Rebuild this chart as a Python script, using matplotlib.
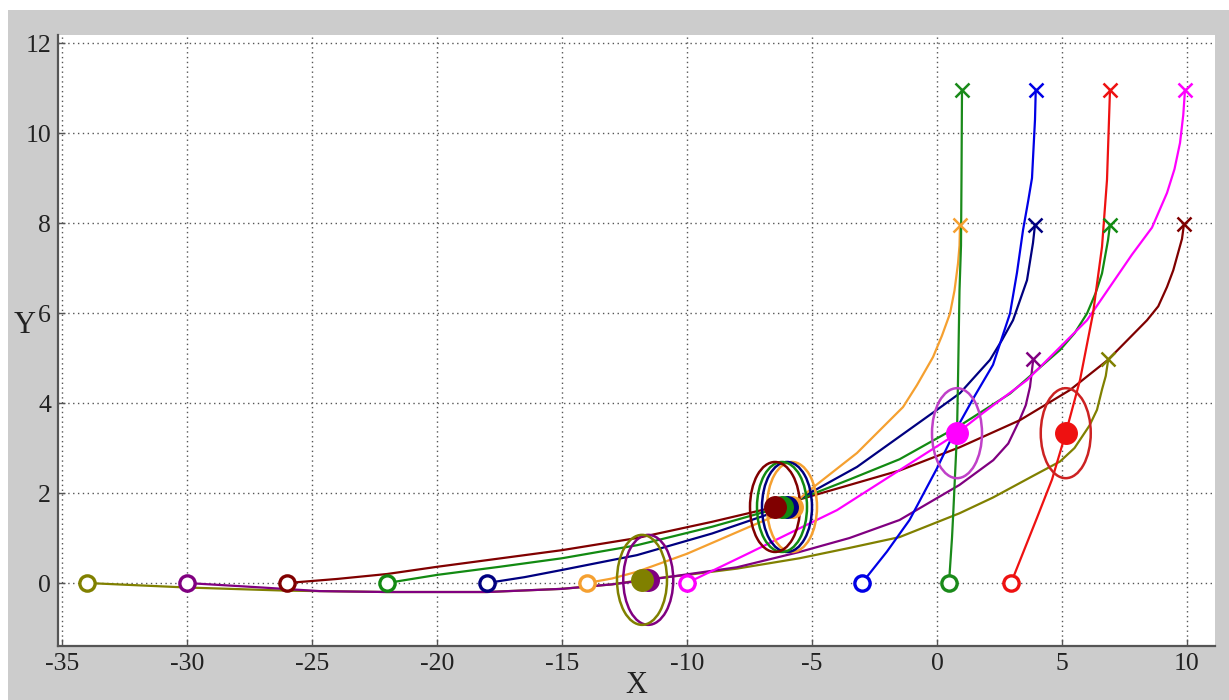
import matplotlib
matplotlib.use("Agg")
import matplotlib.pyplot as plt
from matplotlib.patches import Ellipse, Rectangle

# ---------------- data ----------------
olive_x = [-34, -30, -26, -22, -18, -15, -13, -11.8, -10, -8, -5.5, -3.5, -1.5, 0.9, 2.24, 3.84, 4.92, 5.5, 6.1, 6.4, 6.6, 6.75, 6.85]
olive_y = [0, -0.1, -0.17, -0.2, -0.2, -0.13, -0.03, 0.07, 0.18, 0.32, 0.55, 0.78, 1.02, 1.55, 1.9, 2.38, 2.7, 3.0, 3.5, 3.85, 4.3, 4.6, 4.97]

purple_x = [-30, -27, -24.7, -22, -18, -15, -13, -11.55, -8, -5.5, -3.5, -1.5, 0.9, 2.25, 2.85, 3.3, 3.55, 3.72, 3.85]
purple_y = [0, -0.1, -0.18, -0.2, -0.2, -0.13, -0.03, 0.07, 0.35, 0.69, 1.0, 1.4, 2.18, 2.73, 3.1, 3.62, 3.95, 4.36, 4.97]

maroon_x = [-26, -24, -22, -20, -15, -12, -9, -6.48, -5.48, -1.5, 0.92, 3.32, 5.32, 6.84, 8.4, 8.85, 9.2, 9.45, 9.64, 9.8, 9.88]
maroon_y = [0, 0.09, 0.2, 0.36, 0.73, 1.0, 1.36, 1.69, 1.86, 2.5, 3.02, 3.62, 4.29, 4.96, 5.84, 6.15, 6.58, 6.95, 7.33, 7.65, 7.98]

green_x = [-22, -20, -17.5, -15, -12, -9, -6.2, -5.48, -3.5, -1.5, 0.92, 2.92, 4.92, 5.5, 6.0, 6.35, 6.6, 6.84, 6.92]
green_y = [0, 0.18, 0.36, 0.55, 0.84, 1.25, 1.69, 1.87, 2.3, 2.75, 3.5, 4.21, 5.18, 5.55, 5.99, 6.45, 6.88, 7.62, 7.96]

navy_x = [-18, -16.5, -15, -12, -9, -6.0, -5.48, -3.2, 0, 0.92, 2.12, 2.6, 3.04, 3.6, 3.84, 3.92]
navy_y = [0, 0.13, 0.29, 0.62, 1.1, 1.67, 1.88, 2.58, 3.85, 4.22, 4.96, 5.4, 5.84, 6.73, 7.56, 7.96]

orange_x = [-14, -13, -12, -10, -7.5, -5.8, -5.48, -5.08, -3.2, -1.36, -0.8, -0.16, 0.2, 0.52, 0.7, 0.84, 0.9, 0.92]
orange_y = [0, 0.1, 0.25, 0.65, 1.25, 1.65, 1.88, 2.07, 2.89, 3.91, 4.4, 5.02, 5.5, 5.99, 6.5, 7.1, 7.5, 7.96]

magenta_x = [-10, -7.5, -5.48, -4, -2, 0.4, 0.8, 1.84, 3.6, 6.0, 7.8, 8.6, 9.2, 9.5, 9.72, 9.85, 9.92]
magenta_y = [0, 0.67, 1.22, 1.62, 2.33, 3.18, 3.33, 3.78, 4.51, 5.84, 7.3, 7.9, 8.67, 9.2, 9.78, 10.4, 10.96]

blue_x = [-3, -2, -1.1, 0, 0.65, 1.5, 2.24, 2.92, 3.2, 3.44, 3.65, 3.8, 3.92, 3.95]
blue_y = [0, 0.7, 1.4, 2.55, 3.3, 4.15, 4.85, 5.99, 6.9, 7.84, 8.5, 9.0, 10.3, 10.96]

green1_x = [0.48, 0.6, 0.65, 0.8, 0.84, 0.9, 0.96, 0.98, 1.0]
green1_y = [0, 1.0, 1.55, 3.33, 4.5, 6.5, 7.5, 9.0, 10.96]

red_x = [2.96, 4.0, 4.6, 5.15, 5.72, 6.24, 6.6, 6.8, 6.92]
red_y = [0, 1.45, 2.3, 3.33, 4.51, 5.99, 7.47, 8.96, 10.96]

# estimated positions (filled dots) with unit-radius uncertainty circles
dot_names = ["purple", "olive", "orange", "navy", "green", "maroon", "magenta", "red"]
dot_x = [-11.55, -11.8, -5.8, -6.0, -6.2, -6.48, 0.8, 5.15]
dot_y = [0.07, 0.07, 1.69, 1.69, 1.69, 1.69, 3.33, 3.33]
dot_r = [1.0, 1.0, 1.0, 1.0, 1.0, 1.0, 1.0, 1.0]

x_ticks = [-35, -30, -25, -20, -15, -10, -5, 0, 5, 10]
y_ticks = [0, 2, 4, 6, 8, 10, 12]

# ---------------- style ----------------
colors = {
    "olive": "#808000",
    "purple": "#800080",
    "maroon": "#800000",
    "green": "#128a12",
    "navy": "#000080",
    "orange": "#f5a030",
    "magenta": "#ff00ff",
    "blue": "#0000e6",
    "green1": "#1a8a1a",
    "red": "#ee1111",
}
ell_colors = {
    "olive": "#808000",
    "purple": "#800080",
    "maroon": "#800000",
    "green": "#128a12",
    "navy": "#000080",
    "orange": "#f5a030",
    "magenta": "#c040c8",
    "red": "#cc2222",
}

series = [
    ("olive", olive_x, olive_y),
    ("purple", purple_x, purple_y),
    ("maroon", maroon_x, maroon_y),
    ("green", green_x, green_y),
    ("navy", navy_x, navy_y),
    ("orange", orange_x, orange_y),
    ("magenta", magenta_x, magenta_y),
    ("blue", blue_x, blue_y),
    ("green1", green1_x, green1_y),
    ("red", red_x, red_y),
]

plt.rcParams["font.family"] = ["Liberation Serif", "DejaVu Serif"]
plt.rcParams["axes.unicode_minus"] = False

fig = plt.figure(figsize=(12.29, 7.0), dpi=100, facecolor="white")
fig.add_artist(Rectangle((8 / 1229, 0), 1 - 8 / 1229, 1 - 10 / 700,
                         transform=fig.transFigure, facecolor="#cccccc",
                         edgecolor="none", zorder=-10))
ax = fig.add_axes([58 / 1229, 1 - 646 / 700, (1215 - 58) / 1229, (646 - 35) / 700])
ax.set_facecolor("white")

for name, xs, ys in series:
    c = colors[name]
    ax.plot(xs, ys, color=c, lw=1.6, zorder=3, solid_joinstyle="round")
    ax.plot(xs[0], ys[0], marker="o", ms=11, mfc="white", mec=c, mew=2.4, zorder=5)
    ax.plot(xs[-1], ys[-1], marker="x", ms=10, mec=c, mew=1.8, zorder=5)

for name, x, y, r in zip(dot_names, dot_x, dot_y, dot_r):
    ax.add_patch(Ellipse((x, y), 2 * r, 2 * r, fill=False, ec=ell_colors[name], lw=1.8, zorder=4))
for name, x, y in zip(dot_names, dot_x, dot_y):
    ax.plot(x, y, marker="o", ms=15.5, mfc=colors[name], mec=colors[name], zorder=6)

ax.set_xlim(-35.16, 11.12)
ax.set_ylim(-1.4, 12.18)
ax.set_xticks(x_ticks)
ax.set_yticks(y_ticks)
ax.grid(True, color="#555555", linestyle=(0, (1, 2.5)), linewidth=1.0)
ax.set_axisbelow(True)
for s in ["top", "right"]:
    ax.spines[s].set_visible(False)
for s in ["left", "bottom"]:
    ax.spines[s].set_color("#555555")
    ax.spines[s].set_linewidth(1.6)
ax.tick_params(direction="in", length=5, width=1, colors="#555555", labelsize=18.5,
               labelcolor="#222222", pad=5)

ax.set_xlabel("X", fontsize=22, color="#222222", labelpad=-3)
ax.set_ylabel("Y", fontsize=22, color="#222222", rotation=0, va="center", ha="center")
ax.yaxis.set_label_coords(-0.029, 0.525)

fig.savefig("out.png", dpi=100, facecolor=fig.get_facecolor())
